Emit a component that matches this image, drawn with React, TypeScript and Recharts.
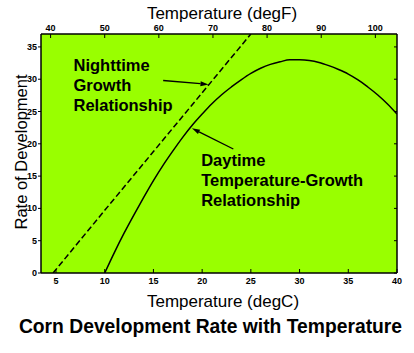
import React from 'react';
import {
  ComposedChart, Line, XAxis, YAxis, CartesianGrid, ReferenceLine, ReferenceDot,
} from 'recharts';

const FONT = "'Liberation Sans', Arial, Helvetica, sans-serif";

// Daytime temperature-growth relationship (degC -> rate)
const dayTemps = [10, 11, 12, 13, 14, 15, 16, 17, 18, 19, 20, 21, 22, 23, 24, 25, 26, 27, 28, 29, 30, 31, 32, 33, 34, 35, 36, 37, 38, 39, 40];
const dayRates = [0, 3.2, 6.2, 9.0, 11.7, 14.3, 16.7, 18.9, 21.0, 22.9, 24.6, 26.2, 27.6, 28.8, 29.9, 30.9, 31.7, 32.3, 32.7, 33.0, 33.0, 32.9, 32.6, 32.1, 31.5, 30.8, 29.9, 28.8, 27.6, 26.2, 24.6];

// Nighttime growth relationship
const nightTemps = [4.7, 10, 15, 20, 25];
const nightRates = [0, 9.7, 18.8, 27.9, 37];

const cTicks = [5, 10, 15, 20, 25, 30, 35, 40];
const fTicks = [40, 50, 60, 70, 80, 90, 100];
const yTicks = [0, 5, 10, 15, 20, 25, 30, 35];
const cDomain = [3.46, 40];
const fDomain = [38.23, 104];
const yDomain = [0, 37];

const noteNight = ['Nighttime', 'Growth', 'Relationship'];
const noteDay = ['Daytime', 'Temperature-Growth', 'Relationship'];
const notePos = [[6.8, 31.2], [19.9, 16.6]];
const arrowNight = [[16.0, 29.8], [20.65, 29.2]];
const arrowDay = [[23.2, 19.2], [18.95, 22.4]];

const dayData = dayTemps.map((t, i) => ({ t, rate: dayRates[i] }));
const nightData = nightTemps.map((t, i) => ({ t, rate: nightRates[i] }));
// invisible helper series so the degF axis and right axis get drawn
const fAxisData = fTicks.map((f) => ({ f, rate: 0 }));

const BottomTick = (p: any) => (
  <g>
    <line x1={p.x} y1={p.y} x2={p.x} y2={p.y - 4} stroke="#000" strokeWidth={1} />
    <text x={p.x} y={p.y + 11} textAnchor="middle" fontSize={9} fontWeight="bold" fontFamily={FONT} fill="#000">{p.payload.value}</text>
  </g>
);
const TopTick = (p: any) => (
  <g>
    <line x1={p.x} y1={p.y} x2={p.x} y2={p.y + 4} stroke="#000" strokeWidth={1} />
    <text x={p.x} y={p.y - 3} textAnchor="middle" fontSize={9} fontWeight="bold" fontFamily={FONT} fill="#000">{p.payload.value}</text>
  </g>
);
const LeftTick = (p: any) => (
  <g>
    <line x1={p.x - 3} y1={p.y} x2={p.x} y2={p.y} stroke="#000" strokeWidth={1} />
    <text x={p.x - 4} y={p.y + 3} textAnchor="end" fontSize={9} fontWeight="bold" fontFamily={FONT} fill="#000">{p.payload.value}</text>
  </g>
);
const RightTick = (p: any) => (
  <line x1={p.x} y1={p.y} x2={p.x - 3} y2={p.y} stroke="#000" strokeWidth={1} />
);

const Arrow = (p: any) => {
  const { x1, y1, x2, y2 } = p;
  const ang = Math.atan2(y2 - y1, x2 - x1);
  const L = 8, W = 2.5;
  const bx = x2 - L * Math.cos(ang), by = y2 - L * Math.sin(ang);
  const px = -Math.sin(ang) * W, py = Math.cos(ang) * W;
  return (
    <g>
      <line x1={x1} y1={y1} x2={bx} y2={by} stroke="#000" strokeWidth={1.3} />
      <polygon points={`${x2},${y2} ${bx + px},${by + py} ${bx - px},${by - py}`} fill="#000" />
    </g>
  );
};

const noteShape = (lines: string[]) => (p: any) => (
  <text x={p.cx} y={p.cy} fontSize={16.5} fontWeight="bold" fontFamily={FONT} fill="#000">
    {lines.map((s, i) => (
      <tspan key={i} x={p.cx} dy={i === 0 ? 0 : 20}>{s}</tspan>
    ))}
  </text>
);

export default function App() {
  return (
    <div style={{ position: 'absolute', left: 0, top: 0, background: '#fff' }}>
      <ComposedChart width={414} height={353} margin={{ top: 0, right: 0, bottom: 0, left: 0 }}>
        <CartesianGrid fill="#99ff00" fillOpacity={1} horizontal={false} vertical={false} stroke="none" />
        <XAxis
          dataKey="t" type="number" domain={cDomain} ticks={cTicks} interval={0} allowDataOverflow
          height={80} tickSize={0} tickMargin={0} tickLine={false}
          axisLine={{ stroke: '#000', strokeWidth: 1.5 }} tick={BottomTick}
          label={{
            content: (lp: any) => {
              const vb = lp.viewBox;
              return (
                <g>
                  <text x={vb.x + vb.width / 2 + 4} y={vb.y + 34} textAnchor="middle" fontSize={17} fontFamily={FONT} fill="#000">Temperature (degC)</text>
                  <text x={210.5} y={vb.y + 59.5} textAnchor="middle" fontSize={19.3} fontWeight="bold" fontFamily={FONT} fill="#000">Corn Development Rate with Temperature</text>
                </g>
              );
            },
          }}
        />
        <XAxis
          xAxisId="top" dataKey="f" orientation="top" type="number" domain={fDomain} ticks={fTicks} interval={0} allowDataOverflow
          height={34} tickSize={0} tickMargin={0} tickLine={false}
          axisLine={{ stroke: '#000', strokeWidth: 1.5 }} tick={TopTick}
          label={{
            content: (lp: any) => {
              const vb = lp.viewBox;
              return (
                <text x={vb.x + vb.width / 2 + 3} y={18.5} textAnchor="middle" fontSize={17} fontFamily={FONT} fill="#000">Temperature (degF)</text>
              );
            },
          }}
        />
        <YAxis
          type="number" domain={yDomain} ticks={yTicks} interval={0} width={41} allowDataOverflow
          tickSize={0} tickMargin={0} tickLine={false}
          axisLine={{ stroke: '#000', strokeWidth: 1.5 }} tick={LeftTick}
          label={{
            content: () => (
              <text x={27} y={152} transform={`rotate(-90 27 152)`} textAnchor="middle" fontSize={16.5} fontFamily={FONT} fill="#000">Rate of Development</text>
            ),
          }}
        />
        <YAxis
          yAxisId="r" orientation="right" type="number" domain={yDomain} ticks={yTicks} interval={0} width={17} allowDataOverflow
          tickSize={0} tickMargin={0} tickLine={false}
          axisLine={{ stroke: '#000', strokeWidth: 1.5 }} tick={RightTick}
        />
        <Line data={fAxisData} dataKey="rate" xAxisId="top" yAxisId="r" stroke="none" strokeOpacity={0}
          dot={false} activeDot={false} legendType="none" isAnimationActive={false} />
        <Line data={nightData} dataKey="rate" type="linear" stroke="#000" strokeWidth={1.5}
          strokeDasharray="6 3" dot={false} activeDot={false} isAnimationActive={false} />
        <Line data={dayData} dataKey="rate" type="monotone" stroke="#000" strokeWidth={1.5}
          dot={false} activeDot={false} isAnimationActive={false} />
        <ReferenceLine segment={[{ x: arrowNight[0][0], y: arrowNight[0][1] }, { x: arrowNight[1][0], y: arrowNight[1][1] }]} shape={Arrow} />
        <ReferenceLine segment={[{ x: arrowDay[0][0], y: arrowDay[0][1] }, { x: arrowDay[1][0], y: arrowDay[1][1] }]} shape={Arrow} />
        <ReferenceDot x={notePos[0][0]} y={notePos[0][1]} r={1} shape={noteShape(noteNight)} />
        <ReferenceDot x={notePos[1][0]} y={notePos[1][1]} r={1} shape={noteShape(noteDay)} />
      </ComposedChart>
    </div>
  );
}
